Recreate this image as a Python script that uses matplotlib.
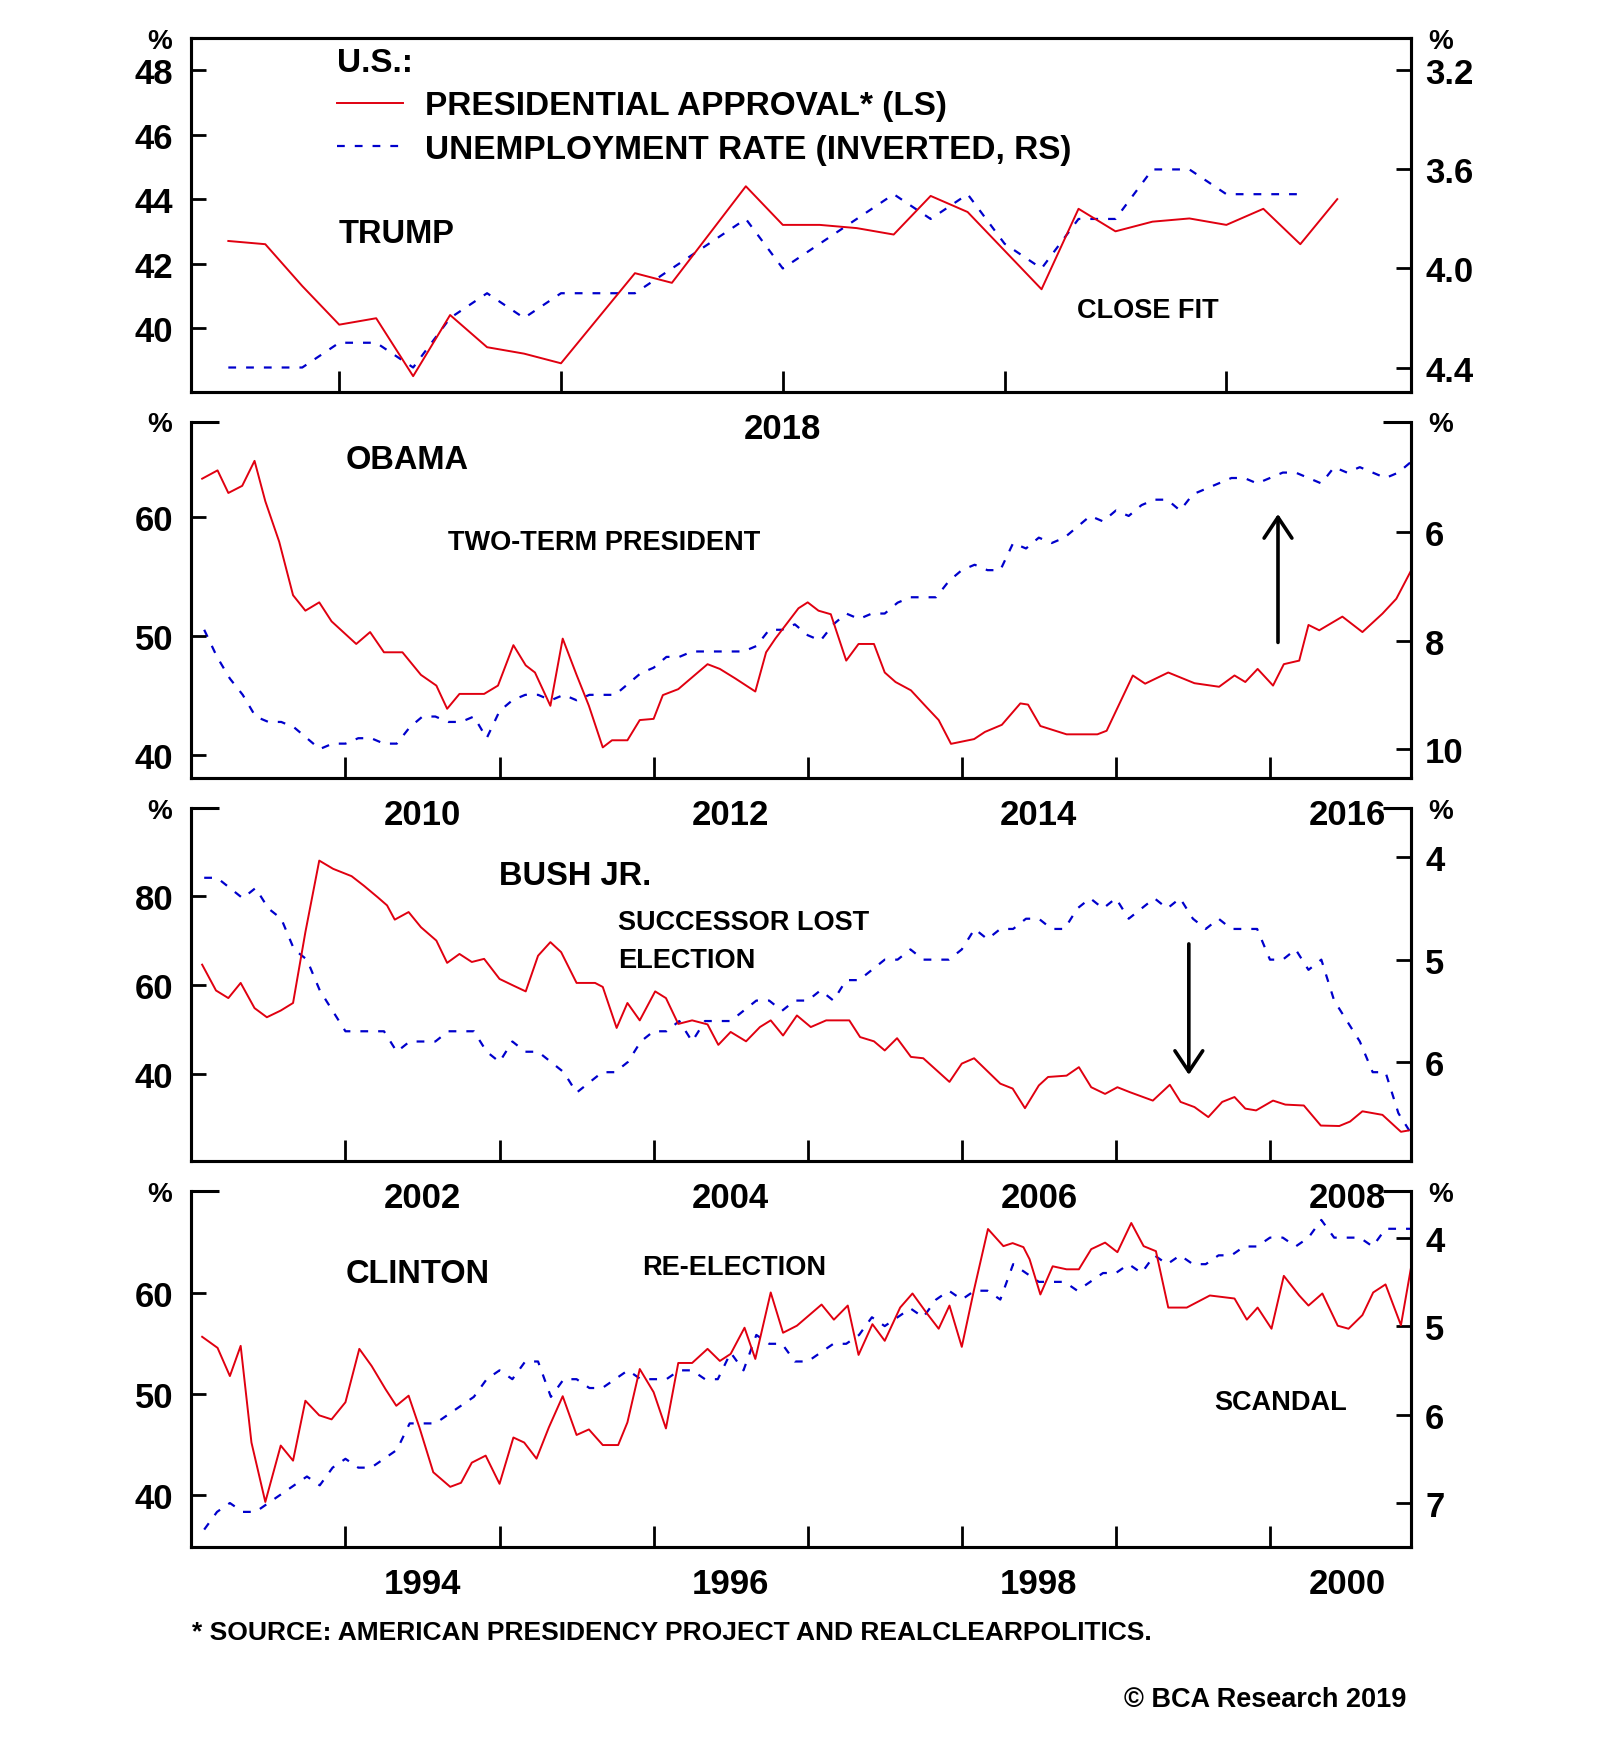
import numpy as np
import matplotlib
matplotlib.use("Agg")
import matplotlib.pyplot as plt

plt.rcParams["font.family"] = ["Liberation Sans", "DejaVu Sans"]
plt.rcParams["font.weight"] = "bold"

RED = "#e00010"
BLUE = "#0000cc"
LW_SPINE = 2.2
DASH = (0, (3.5, 4.5))

# ---------------- data ----------------
# Trump: monthly, approval Mar 2017 - Sep 2019, unemployment Mar 2017 - Aug 2019
trump_approval = [42.7, 42.6, 41.3, 40.1, 40.3, 38.5, 40.4, 39.4, 39.2, 38.9,
                  40.3, 41.7, 41.4, 42.9, 44.4, 43.2, 43.2, 43.1, 42.9, 44.1,
                  43.6, 42.4, 41.2, 43.7, 43.0, 43.3, 43.4, 43.2, 43.7, 42.6, 44.0]
trump_unemp = [4.4, 4.4, 4.4, 4.3, 4.3, 4.4, 4.2, 4.1, 4.2, 4.1,
               4.1, 4.1, 4.0, 3.9, 3.8, 4.0, 3.9, 3.8, 3.7, 3.8,
               3.7, 3.9, 4.0, 3.8, 3.8, 3.6, 3.6, 3.7, 3.7, 3.7]

# Obama: unemployment Jan 2009 - Nov 2016, approval
obama_unemp = [7.8, 8.3, 8.7, 9.0, 9.4, 9.5, 9.5, 9.6, 9.8, 10.0, 9.9, 9.9,
               9.8, 9.8, 9.9, 9.9, 9.6, 9.4, 9.4, 9.5, 9.5, 9.4, 9.8, 9.3,
               9.1, 9.0, 9.0, 9.1, 9.0, 9.1, 9.0, 9.0, 9.0, 8.8, 8.6, 8.5,
               8.3, 8.3, 8.2, 8.2, 8.2, 8.2, 8.2, 8.1, 7.8, 7.8, 7.7, 7.9,
               8.0, 7.7, 7.5, 7.6, 7.5, 7.5, 7.3, 7.2, 7.2, 7.2, 6.9, 6.7,
               6.6, 6.7, 6.7, 6.2, 6.3, 6.1, 6.2, 6.1, 5.9, 5.7, 5.8, 5.6,
               5.7, 5.5, 5.4, 5.4, 5.6, 5.3, 5.2, 5.1, 5.0, 5.0, 5.1, 5.0,
               4.9, 4.9, 5.0, 5.1, 4.8, 4.9, 4.8, 4.9, 5.0, 4.9, 4.7]
obama_t = [2009.07, 2009.17, 2009.24, 2009.33, 2009.41, 2009.48, 2009.57, 2009.66, 2009.74, 2009.83, 2009.91,
           2010.07, 2010.16, 2010.25, 2010.37, 2010.49, 2010.59, 2010.66, 2010.74, 2010.90, 2010.99,
           2011.09, 2011.17, 2011.23, 2011.33, 2011.41, 2011.50, 2011.58, 2011.67, 2011.73, 2011.83, 2011.91,
           2012.00, 2012.06, 2012.16, 2012.35, 2012.43, 2012.53, 2012.66, 2012.73, 2012.79, 2012.94,
           2013.00, 2013.07, 2013.15, 2013.25, 2013.33, 2013.43, 2013.50, 2013.57, 2013.67, 2013.77, 2013.85, 2013.93,
           2014.08, 2014.15, 2014.26, 2014.38, 2014.43, 2014.51, 2014.68, 2014.88, 2014.94,
           2015.11, 2015.19, 2015.34, 2015.51, 2015.67, 2015.77, 2015.84, 2015.92,
           2016.02, 2016.09, 2016.19, 2016.25, 2016.32, 2016.47, 2016.60, 2016.73, 2016.82, 2016.917]
obama_approval = [63.2, 63.9, 62.0, 62.6, 64.7, 61.3, 57.9, 53.4, 52.1, 52.8, 51.2,
                  49.3, 50.3, 48.6, 48.6, 46.7, 45.8, 43.85, 45.1, 45.1, 45.8,
                  49.2, 47.5, 46.9, 44.1, 49.75, 46.7, 44.1, 40.6, 41.2, 41.2, 42.9,
                  43.0, 45.0, 45.5, 47.6, 47.2, 46.4, 45.3, 48.6, 49.75, 52.3,
                  52.8, 52.1, 51.8, 47.9, 49.3, 49.3, 46.9, 46.1, 45.4, 44.0, 42.9, 40.9,
                  41.3, 41.9, 42.5, 44.3, 44.2, 42.4, 41.7, 41.7, 42.0,
                  46.65, 45.96, 46.9, 46.0, 45.7, 46.65, 46.1, 47.2,
                  45.8, 47.6, 47.9, 50.9, 50.45, 51.6, 50.3, 51.85, 53.1, 55.5]

# Bush Jr.: unemployment Jan 2001 - Nov 2008
bush_unemp = [4.2, 4.2, 4.3, 4.4, 4.3, 4.5, 4.6, 4.9, 5.0, 5.3, 5.5, 5.7,
              5.7, 5.7, 5.7, 5.9, 5.8, 5.8, 5.8, 5.7, 5.7, 5.7, 5.9, 6.0,
              5.8, 5.9, 5.9, 6.0, 6.1, 6.3, 6.2, 6.1, 6.1, 6.0, 5.8, 5.7,
              5.7, 5.6, 5.8, 5.6, 5.6, 5.6, 5.5, 5.4, 5.4, 5.5, 5.4, 5.4,
              5.3, 5.4, 5.2, 5.2, 5.1, 5.0, 5.0, 4.9, 5.0, 5.0, 5.0, 4.9,
              4.7, 4.8, 4.7, 4.7, 4.6, 4.6, 4.7, 4.7, 4.5, 4.4, 4.5, 4.4,
              4.6, 4.5, 4.4, 4.5, 4.4, 4.6, 4.7, 4.6, 4.7, 4.7, 4.7, 5.0,
              5.0, 4.9, 5.1, 5.0, 5.4, 5.6, 5.8, 6.1, 6.1, 6.5, 6.7]
bush_t = [2001.07, 2001.16, 2001.24, 2001.32, 2001.41, 2001.49, 2001.58, 2001.66, 2001.74, 2001.83, 2001.92,
          2002.04, 2002.12, 2002.21, 2002.27, 2002.32, 2002.41, 2002.49, 2002.59, 2002.66, 2002.74, 2002.82, 2002.90,
          2003.00, 2003.09, 2003.17, 2003.25, 2003.33, 2003.40, 2003.50, 2003.62, 2003.67, 2003.76, 2003.83, 2003.91,
          2004.01, 2004.08, 2004.16, 2004.25, 2004.35, 2004.42, 2004.50, 2004.60, 2004.69, 2004.76, 2004.84, 2004.93,
          2005.02, 2005.12, 2005.27, 2005.34, 2005.43, 2005.50, 2005.58, 2005.67, 2005.75, 2005.92,
          2006.00, 2006.08, 2006.25, 2006.33, 2006.41, 2006.50, 2006.56, 2006.68, 2006.76, 2006.84, 2006.93,
          2007.01, 2007.09, 2007.24, 2007.35, 2007.42, 2007.51, 2007.60, 2007.69, 2007.77, 2007.84, 2007.91,
          2008.02, 2008.10, 2008.22, 2008.33, 2008.45, 2008.52, 2008.60, 2008.73, 2008.85, 2008.90]
bush_approval = [64.5, 58.7, 57.0, 60.4, 54.75, 52.7, 54.2, 55.9, 71.8, 87.85, 86.0,
                 84.35, 82.2, 79.6, 77.8, 74.6, 76.3, 72.9, 69.9, 64.9, 66.9, 65.1, 65.8,
                 61.3, 59.8, 58.5, 66.5, 69.55, 67.3, 60.4, 60.4, 59.5, 50.3, 55.9, 52.0,
                 58.5, 57.0, 51.2, 52.0, 51.1, 46.5, 49.4, 47.3, 50.5, 52.0, 48.6, 53.1,
                 50.5, 52.0, 52.0, 48.25, 47.3, 45.25, 48.0, 43.8, 43.5, 38.2,
                 42.3, 43.5, 37.8, 36.7, 32.3, 37.4, 39.3, 39.6, 41.5, 37.0, 35.5,
                 37.0, 35.9, 34.0, 37.55, 33.7, 32.55, 30.3, 33.7, 34.8, 32.2, 31.8,
                 34.0, 33.1, 32.9, 28.4, 28.3, 29.3, 31.6, 30.8, 27.0, 27.3]

# Clinton: unemployment Jan 1993 - Nov 2000
clinton_unemp = [7.3, 7.1, 7.0, 7.1, 7.1, 7.0, 6.9, 6.8, 6.7, 6.8, 6.6, 6.5,
                 6.6, 6.6, 6.5, 6.4, 6.1, 6.1, 6.1, 6.0, 5.9, 5.8, 5.6, 5.5,
                 5.6, 5.4, 5.4, 5.8, 5.6, 5.6, 5.7, 5.7, 5.6, 5.5, 5.6, 5.6,
                 5.6, 5.5, 5.5, 5.6, 5.6, 5.3, 5.5, 5.1, 5.2, 5.2, 5.4, 5.4,
                 5.3, 5.2, 5.2, 5.1, 4.9, 5.0, 4.9, 4.8, 4.9, 4.7, 4.6, 4.7,
                 4.6, 4.6, 4.7, 4.3, 4.4, 4.5, 4.5, 4.5, 4.6, 4.5, 4.4, 4.4,
                 4.3, 4.4, 4.2, 4.3, 4.2, 4.3, 4.3, 4.2, 4.2, 4.1, 4.1, 4.0,
                 4.0, 4.1, 4.0, 3.8, 4.0, 4.0, 4.0, 4.1, 3.9, 3.9, 3.9]
clinton_t = [1993.07, 1993.17, 1993.25, 1993.32, 1993.39, 1993.48, 1993.58, 1993.66, 1993.74, 1993.83, 1993.91,
             1994.00, 1994.09, 1994.17, 1994.26, 1994.33, 1994.41, 1994.48, 1994.57, 1994.68, 1994.75, 1994.82, 1994.91,
             1995.00, 1995.09, 1995.16, 1995.24, 1995.32, 1995.41, 1995.50, 1995.58, 1995.67, 1995.77, 1995.83, 1995.91,
             1996.00, 1996.08, 1996.16, 1996.25, 1996.35, 1996.43, 1996.50, 1996.59, 1996.66, 1996.76, 1996.84, 1996.93,
             1997.09, 1997.17, 1997.26, 1997.33, 1997.42, 1997.50, 1997.60, 1997.68, 1997.77, 1997.85, 1997.92,
             1998.00, 1998.08, 1998.17, 1998.27, 1998.33, 1998.40, 1998.44, 1998.51, 1998.59, 1998.68, 1998.76, 1998.84, 1998.93,
             1999.01, 1999.10, 1999.18, 1999.26, 1999.34, 1999.46, 1999.61, 1999.77, 1999.85, 1999.92,
             2000.01, 2000.09, 2000.19, 2000.25, 2000.34, 2000.44, 2000.51, 2000.60, 2000.67, 2000.75, 2000.85, 2000.917]
clinton_approval = [55.7, 54.6, 51.8, 54.8, 45.2, 39.3, 44.9, 43.4, 49.35, 47.9, 47.5,
                    49.2, 54.5, 52.8, 50.5, 48.85, 49.85, 46.7, 42.25, 40.8, 41.2, 43.2, 43.9,
                    41.1, 45.7, 45.2, 43.6, 46.7, 49.8, 45.95, 46.5, 44.95, 44.95, 47.2, 52.5,
                    50.2, 46.6, 53.1, 53.1, 54.5, 53.3, 54.0, 56.6, 53.5, 60.1, 56.1, 56.8,
                    58.9, 57.4, 58.8, 53.9, 56.95, 55.3, 58.6, 60.0, 58.1, 56.5, 58.8,
                    54.7, 60.4, 66.4, 64.7, 65.0, 64.6, 63.4, 59.9, 62.7, 62.4, 62.4, 64.4, 65.05,
                    64.1, 67.0, 64.7, 64.2, 58.6, 58.6, 59.8, 59.5, 57.4, 58.6,
                    56.5, 61.75, 59.8, 58.8, 60.0, 56.8, 56.5, 57.85, 60.1, 60.9, 56.85, 62.7]

# ---------------- figure ----------------
fig = plt.figure(figsize=(16, 17.58), dpi=100)
LEFT, WIDTH = 0.1196, 0.7624
RECTS = [(LEFT, 0.7763, WIDTH, 0.2014),
         (LEFT, 0.5567, WIDTH, 0.2029),
         (LEFT, 0.3389, WIDTH, 0.2008),
         (LEFT, 0.1193, WIDTH, 0.2028)]


def month_end(start_year, start_month, n):
    # month-end positions in decimal years
    return start_year + (start_month + np.arange(n)) / 12.0


def make_panel(rect, xlim, majors, lab_pos, lab_txt, llim, lticks, rlim, rticks, rlabels, full_box):
    ax = fig.add_axes(rect)
    ax2 = ax.twinx()
    ax.set_zorder(ax2.get_zorder() + 1)
    ax.patch.set_visible(False)
    ax.set_xlim(*xlim)
    ax.set_ylim(*llim)
    ax2.set_ylim(*rlim)

    ax.xaxis.remove_overlapping_locs = False
    ax.set_xticks(majors)
    ax.set_xticklabels([""] * len(majors))
    ax.set_xticks(lab_pos, minor=True)
    ax.set_xticklabels(lab_txt, minor=True)
    ax.tick_params(axis="x", which="major", direction="in", length=15, width=2, top=False)
    ax.tick_params(axis="x", which="minor", length=0, pad=14, labelsize=25, top=False)

    ax.set_yticks(lticks)
    ax.set_yticklabels([str(v) for v in lticks])
    ax.tick_params(axis="y", direction="in", length=11, width=2, pad=13, labelsize=25)
    ax2.set_yticks(rticks)
    ax2.set_yticklabels(rlabels)
    ax2.tick_params(axis="y", direction="in", length=11, width=2, pad=10, labelsize=25)

    for a in (ax, ax2):
        for s in a.spines.values():
            s.set_linewidth(LW_SPINE)
        if not full_box:
            a.spines["top"].set_visible(False)
    if not full_box:
        for x0, x1 in ((0, 0.023), (0.977, 1)):
            ax.plot([x0, x1], [1, 1], transform=ax.transAxes, color="k", lw=LW_SPINE,
                    clip_on=False, solid_capstyle="butt")
    ax.text(-0.026, 0.992, "%", transform=ax.transAxes, ha="center", va="center", fontsize=20)
    ax.text(1.024, 0.992, "%", transform=ax.transAxes, ha="center", va="center", fontsize=20)
    return ax, ax2


def eight_year_axis(y0):
    majors = [y0 + i for i in range(1, 8)]
    lab_pos = [y0 + 1.5 + 2 * i for i in range(4)]
    lab_txt = [str(y0 + 1 + 2 * i) for i in range(4)]
    return (y0, y0 + 7 + 11 / 12), majors, lab_pos, lab_txt


def arrow(ax, x, y_from, y_to):
    ax.annotate("", xy=(x, y_to), xytext=(x, y_from), xycoords="axes fraction",
                arrowprops=dict(arrowstyle="->,head_length=0.6,head_width=0.4", lw=2.6,
                                color="k", mutation_scale=25, shrinkA=0, shrinkB=0))


def note(ax, x, y, s, size):
    ax.text(x, y, s, transform=ax.transAxes, ha="left", va="center", fontsize=size)


# ---- Trump ----
ax, ax2 = make_panel(RECTS[0], (2017 + 2 / 12, 2019 + 11 / 12),
                     [2017.5, 2018.0, 2018.5, 2019.0, 2019.5], [2018.5], ["2018"],
                     (38, 49), [40, 42, 44, 46, 48],
                     (4.5, 3.07), [3.2, 3.6, 4.0, 4.4], ["3.2", "3.6", "4.0", "4.4"], True)
bl, = ax2.plot(month_end(2017, 3, len(trump_unemp)), trump_unemp, color=BLUE, lw=1.6, ls=DASH)
rl, = ax.plot(month_end(2017, 3, len(trump_approval)), trump_approval, color=RED, lw=1.4)
note(ax, 0.119, 0.932, "U.S.:", 24)
ax.legend([rl, bl], ["PRESIDENTIAL APPROVAL* (LS)", "UNEMPLOYMENT RATE (INVERTED, RS)"],
          loc="upper left", bbox_to_anchor=(0.119, 0.853), frameon=False, fontsize=24,
          handlelength=2.0, handletextpad=0.66, labelspacing=0.37, borderpad=0, borderaxespad=0)
note(ax, 0.1204, 0.447, "TRUMP", 23.5)
note(ax, 0.726, 0.232, "CLOSE FIT", 19.5)

# ---- Obama ----
xl, mj, lp, lt = eight_year_axis(2009)
ax, ax2 = make_panel(RECTS[1], xl, mj, lp, lt, (38, 68), [40, 50, 60],
                     (10.54, 3.96), [6, 8, 10], ["6", "8", "10"], False)
ax2.plot(month_end(2009, 1, len(obama_unemp)), obama_unemp, color=BLUE, lw=1.6, ls=DASH)
ax.plot(obama_t, obama_approval, color=RED, lw=1.4)
note(ax, 0.1267, 0.8926, "OBAMA", 23.5)
note(ax, 0.2103, 0.6635, "TWO-TERM PRESIDENT", 19.5)
arrow(ax, 0.8908, 0.381, 0.741)

# ---- Bush Jr. ----
xl, mj, lp, lt = eight_year_axis(2001)
ax, ax2 = make_panel(RECTS[2], xl, mj, lp, lt, (20.4, 99.6), [40, 60, 80],
                     (6.97, 3.52), [4, 5, 6], ["4", "5", "6"], False)
ax2.plot(month_end(2001, 1, len(bush_unemp)), bush_unemp, color=BLUE, lw=1.6, ls=DASH)
ax.plot(bush_t, bush_approval, color=RED, lw=1.4)
note(ax, 0.2521, 0.809, "BUSH JR.", 23.5)
note(ax, 0.350, 0.677, "SUCCESSOR LOST", 19.5)
note(ax, 0.350, 0.571, "ELECTION", 19.5)
arrow(ax, 0.8177, 0.6156, 0.2445)

# ---- Clinton ----
xl, mj, lp, lt = eight_year_axis(1993)
ax, ax2 = make_panel(RECTS[3], xl, mj, lp, lt, (34.8, 70.2), [40, 50, 60],
                     (7.5, 3.47), [4, 5, 6, 7], ["4", "5", "6", "7"], False)
ax2.plot(month_end(1993, 1, len(clinton_unemp)), clinton_unemp, color=BLUE, lw=1.6, ls=DASH)
ax.plot(clinton_t, clinton_approval, color=RED, lw=1.4)
note(ax, 0.1267, 0.7684, "CLINTON", 23.5)
note(ax, 0.3692, 0.785, "RE-ELECTION", 19.5)
note(ax, 0.8386, 0.408, "SCANDAL", 19.5)

fig.text(0.1199, 0.0711, "* SOURCE: AMERICAN PRESIDENCY PROJECT AND REALCLEARPOLITICS.",
         ha="left", va="center", fontsize=19)
fig.text(0.879, 0.033, "\u00a9 BCA Research 2019", ha="right", va="center", fontsize=19.5)

fig.savefig("out.png", dpi=100, facecolor="white")
